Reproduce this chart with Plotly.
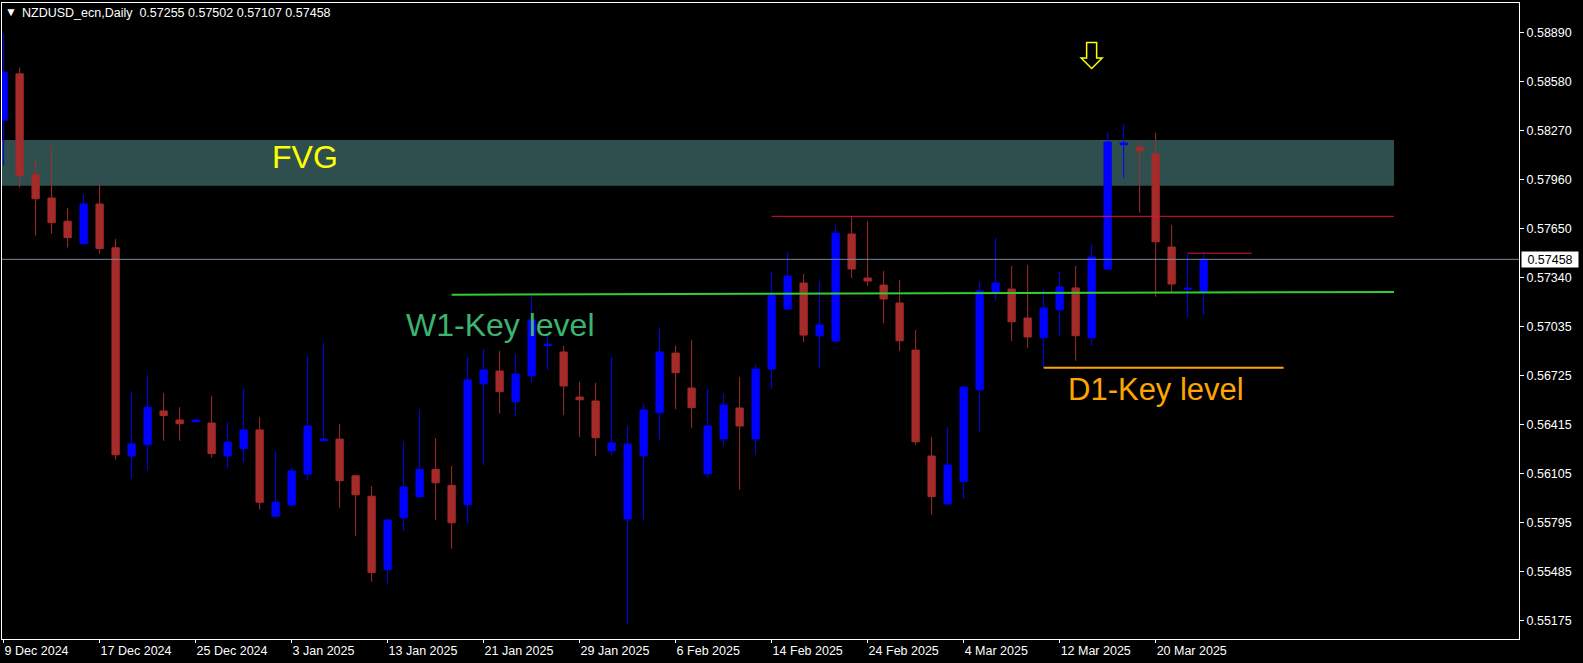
import plotly.graph_objects as go
import pandas as pd

# ---------------- data ----------------
dates = [d for d in pd.bdate_range("2024-12-09", "2025-03-25") if d != pd.Timestamp("2025-01-01")]

opens = [0.58338, 0.58631, 0.57994, 0.57846, 0.57699, 0.57557, 0.57808, 0.57531, 0.56215, 0.56286,
         0.56499, 0.56442, 0.56430, 0.56423, 0.56215, 0.56260, 0.56379, 0.55833, 0.55905, 0.56100,
         0.56311, 0.56321, 0.56089, 0.55960, 0.55496, 0.55824, 0.55957, 0.56130, 0.56029, 0.55906,
         0.56671, 0.56752, 0.56557, 0.56722, 0.56913, 0.56872, 0.56587, 0.56562, 0.56248, 0.55816,
         0.56216, 0.56488, 0.56865, 0.56644, 0.56102, 0.56322, 0.56518, 0.56322, 0.56764, 0.57144,
         0.57308, 0.56975, 0.56941, 0.57618, 0.57340, 0.57295, 0.57182, 0.56884, 0.56214, 0.55912,
         0.56052, 0.56633, 0.57243, 0.57270, 0.57087, 0.56962, 0.57139, 0.57277, 0.56962, 0.57397,
         0.58183, 0.58168, 0.58124, 0.57536, 0.57268, 0.57255]
highs = [0.58887, 0.58671, 0.58087, 0.58176, 0.57784, 0.57868, 0.57937, 0.57586, 0.56619, 0.56725,
         0.56612, 0.56523, 0.56448, 0.56595, 0.56428, 0.56643, 0.56461, 0.56246, 0.56142, 0.56850,
         0.56929, 0.56417, 0.56095, 0.56024, 0.55816, 0.56309, 0.56511, 0.56328, 0.56151, 0.56840,
         0.56891, 0.56878, 0.56859, 0.57228, 0.56992, 0.56910, 0.56684, 0.56676, 0.56840, 0.56404,
         0.56543, 0.57025, 0.56912, 0.56948, 0.56638, 0.56612, 0.56714, 0.56791, 0.57380, 0.57504,
         0.57365, 0.57321, 0.57675, 0.57727, 0.57700, 0.57384, 0.57327, 0.57011, 0.56334, 0.56397,
         0.56655, 0.57314, 0.57593, 0.57416, 0.57422, 0.57270, 0.57378, 0.57416, 0.57555, 0.58263,
         0.58314, 0.58202, 0.58257, 0.57675, 0.57496, 0.57502]
lows = [0.58050, 0.57912, 0.57608, 0.57619, 0.57533, 0.57550, 0.57493, 0.56191, 0.56071, 0.56122,
        0.56311, 0.56311, 0.56430, 0.56204, 0.56133, 0.56175, 0.55876, 0.55833, 0.55891, 0.56058,
        0.56311, 0.55887, 0.55709, 0.55419, 0.55408, 0.55740, 0.55950, 0.55809, 0.55628, 0.55788,
        0.56157, 0.56482, 0.56463, 0.56678, 0.56758, 0.56473, 0.56334, 0.56214, 0.56220, 0.55153,
        0.55809, 0.56317, 0.56511, 0.56391, 0.56077, 0.56279, 0.56001, 0.56220, 0.56638, 0.57138,
        0.56935, 0.56771, 0.56929, 0.57340, 0.57289, 0.57055, 0.56880, 0.56286, 0.55843, 0.55900,
        0.55944, 0.56368, 0.57194, 0.56941, 0.56897, 0.56772, 0.56975, 0.56817, 0.56912, 0.57390,
        0.57974, 0.57753, 0.57221, 0.57253, 0.57091, 0.57107]
closes = [0.58642, 0.57987, 0.57841, 0.57690, 0.57595, 0.57808, 0.57526, 0.56222, 0.56291, 0.56523,
          0.56470, 0.56419, 0.56442, 0.56229, 0.56302, 0.56379, 0.55922, 0.55922, 0.56120, 0.56404,
          0.56321, 0.56058, 0.55969, 0.55477, 0.55809, 0.56018, 0.56130, 0.56045, 0.55792, 0.56695,
          0.56758, 0.56621, 0.56733, 0.57074, 0.56922, 0.56657, 0.56570, 0.56330, 0.56296, 0.56290,
          0.56505, 0.56872, 0.56741, 0.56520, 0.56404, 0.56537, 0.56404, 0.56764, 0.57228, 0.57352,
          0.56979, 0.57043, 0.57624, 0.57397, 0.57321, 0.57207, 0.56943, 0.56304, 0.55957, 0.56157,
          0.56650, 0.57258, 0.57308, 0.57063, 0.56967, 0.57150, 0.57283, 0.56975, 0.57473, 0.58200,
          0.58194, 0.58145, 0.57569, 0.57302, 0.57275, 0.57458]

tick_labels = ["9 Dec 2024", "17 Dec 2024", "25 Dec 2024", "3 Jan 2025", "13 Jan 2025",
               "21 Jan 2025", "29 Jan 2025", "6 Feb 2025", "14 Feb 2025", "24 Feb 2025",
               "4 Mar 2025", "12 Mar 2025", "20 Mar 2025"]
price_labels = ["0.58890", "0.58580", "0.58270", "0.57960", "0.57650", "0.57340", "0.57035",
                "0.56725", "0.56415", "0.56105", "0.55795", "0.55485", "0.55175"]

symbol = "NZDUSD_ecn,Daily"

# drawn levels (prices) and their bar spans
fvg_low, fvg_high = 0.57924, 0.58213
red_level = 0.57730
red_short_level = 0.57497
w1_start, w1_end = 0.57234, 0.57252
d1_level = 0.56772
arrow_bar, arrow_top = 68, 0.58829

# ---------------- geometry ----------------
W, H = 1583, 663
ML, MR, MT, MB = 2, 64, 3, 24
x_range = [-0.1, 94.71]
y_range = [0.55057, 0.59079]
px_per_bar = (W - ML - MR) / (x_range[1] - x_range[0])
px_per_price = (H - MT - MB) / (y_range[1] - y_range[0])
ray_end = 86.9

FONT = "Liberation Sans, Arial, sans-serif"

x_idx = list(range(len(dates)))
label_of = {f"{d.day} {d.strftime('%b %Y')}": i for i, d in enumerate(dates)}
tick_idx = [label_of[t] for t in tick_labels]
price_vals = [float(p) for p in price_labels]
last = len(dates) - 1

fig = go.Figure(go.Candlestick(
    x=x_idx, open=opens, high=highs, low=lows, close=closes,
    increasing=dict(line=dict(color="#0000FF", width=1), fillcolor="#0000FF"),
    decreasing=dict(line=dict(color="#A52A2A", width=1), fillcolor="#A52A2A"),
    whiskerwidth=0, hoverinfo="skip", showlegend=False,
))

# arrow outline (built around the anchor bar, sizes in px converted to data units)
def ax(dpx):
    return arrow_bar + dpx / px_per_bar

def ay(dpx):
    return arrow_top - dpx / px_per_price

arrow_path = (f"M {ax(-5)},{ay(0)} L {ax(5)},{ay(0)} L {ax(5)},{ay(15.5)} L {ax(10.5)},{ay(15.5)} "
              f"L {ax(0)},{ay(26)} L {ax(-10.5)},{ay(15.5)} L {ax(-5)},{ay(15.5)} Z")

shapes = [
    dict(type="rect", xref="x", yref="y", x0=x_range[0], x1=ray_end, y0=fvg_low, y1=fvg_high,
         fillcolor="#2F4F4F", line=dict(width=0), layer="below"),
    dict(type="line", xref="paper", yref="y", x0=0, x1=1, y0=closes[last], y1=closes[last],
         line=dict(color="#778899", width=1)),
    dict(type="line", xref="x", yref="y", x0=48, x1=ray_end, y0=red_level, y1=red_level,
         line=dict(color="#DC143C", width=1)),
    dict(type="line", xref="x", yref="y", x0=74, x1=78, y0=red_short_level, y1=red_short_level,
         line=dict(color="#DC143C", width=1)),
    dict(type="line", xref="x", yref="y", x0=28, x1=ray_end, y0=w1_start, y1=w1_end,
         line=dict(color="#32CD32", width=2)),
    dict(type="line", xref="x", yref="y", x0=65, x1=80, y0=d1_level, y1=d1_level,
         line=dict(color="#FFA500", width=2)),
    dict(type="path", xref="x", yref="y", path=arrow_path,
         line=dict(color="#FFFF00", width=1.5), fillcolor="rgba(0,0,0,0)"),
]

annotations = [
    dict(text="FVG", x=16.65, y=0.58102, xref="x", yref="y", xanchor="left", yanchor="middle",
         showarrow=False, font=dict(family=FONT, size=32, color="#FFFF00")),
    dict(text="W1-Key level", x=25.03, y=0.57044, xref="x", yref="y", xanchor="left", yanchor="middle",
         showarrow=False, font=dict(family=FONT, size=32, color="#3CB371")),
    dict(text="D1-Key level", x=66.37, y=0.56636, xref="x", yref="y", xanchor="left", yanchor="middle",
         showarrow=False, font=dict(family=FONT, size=31, color="#FFA500")),
    dict(text="▼", x=(10.5 - ML) / (W - ML - MR), y=1 - (12 - MT) / (H - MT - MB), xref="paper", yref="paper",
         xanchor="center", yanchor="middle", showarrow=False, font=dict(family=FONT, size=12, color="white")),
    dict(text=f"{symbol}\u00a0\u00a0{opens[last]:.5f} {highs[last]:.5f} {lows[last]:.5f} {closes[last]:.5f}",
         x=(20 - ML) / (W - ML - MR), y=1 - (12.5 - MT) / (H - MT - MB), xref="paper", yref="paper",
         xanchor="left", yanchor="middle", showarrow=False, font=dict(family=FONT, size=12.5, color="white")),
    dict(text=f"{closes[last]:.5f}", x=1, xshift=2, y=closes[last], xref="paper", yref="y",
         xanchor="left", yanchor="middle", showarrow=False, bgcolor="white", borderpad=2,
         width=52, height=11, align="center",
         font=dict(family=FONT, size=12.5, color="black")),
]

fig.update_layout(
    width=W, height=H,
    margin=dict(l=ML, r=MR, t=MT, b=MB, pad=0),
    paper_bgcolor="black", plot_bgcolor="black",
    showlegend=False, boxgap=0.35,
    font=dict(family=FONT, size=12.5, color="white"),
    shapes=shapes, annotations=annotations,
    xaxis=dict(range=x_range, tickmode="array", tickvals=tick_idx, ticktext=tick_labels,
               ticks="outside", ticklen=3, tickcolor="white", ticklabelposition="outside right",
               tickfont=dict(family=FONT, size=12.5, color="white"),
               showgrid=False, zeroline=False, showline=True, linecolor="white", linewidth=1,
               mirror=True, rangeslider=dict(visible=False), fixedrange=True),
    yaxis=dict(range=y_range, side="right", tickmode="array", tickvals=price_vals, ticktext=price_labels,
               ticks="outside", ticklen=4, tickcolor="white",
               tickfont=dict(family=FONT, size=12.5, color="white"),
               showgrid=False, zeroline=False, showline=True, linecolor="white", linewidth=1,
               mirror=True, fixedrange=True),
)

fig.write_html("out.html", config={"displayModeBar": False},
               post_script="document.body.style.margin='0';")
